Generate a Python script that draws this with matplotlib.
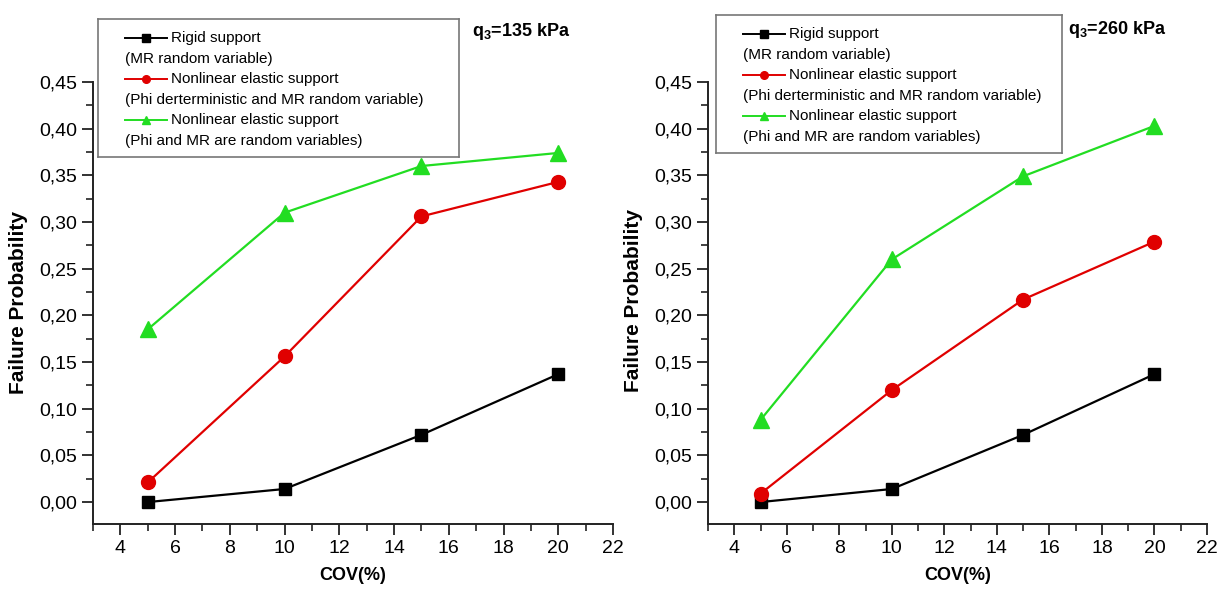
import matplotlib
matplotlib.use('Agg')
import matplotlib.pyplot as plt
from matplotlib.ticker import MultipleLocator, FuncFormatter

plt.rcParams['font.family'] = ['Liberation Sans', 'DejaVu Sans']
plt.rcParams['mathtext.fontset'] = 'custom'
plt.rcParams['mathtext.rm'] = 'Liberation Sans'
plt.rcParams['mathtext.bf'] = 'Liberation Sans:bold'

# data
cov = [5, 10, 15, 20]

rigid_135 = [0.000, 0.014, 0.072, 0.137]
nl_det_135 = [0.021, 0.156, 0.306, 0.343]
nl_rand_135 = [0.185, 0.310, 0.360, 0.374]

rigid_260 = [0.000, 0.014, 0.072, 0.137]
nl_det_260 = [0.009, 0.120, 0.217, 0.279]
nl_rand_260 = [0.088, 0.260, 0.349, 0.403]

series_names = ['Rigid support', 'Nonlinear elastic support', 'Nonlinear elastic support']
series_notes = ['(MR random variable)',
                '(Phi derterministic and MR random variable)',
                '(Phi and MR are random variables)']
titles = [r'q$_\mathbf{3}$=135 kPa', r'q$_\mathbf{3}$=260 kPa']

colors = ['black', '#e00000', '#22dd22']
markers = ['s', 'o', '^']
msizes = [9, 10, 11]

W, H = 1217, 594
fig = plt.figure(figsize=(W / 100, H / 100), dpi=100)


def px_axes(x0, y0, x1, y1, **kw):
    return fig.add_axes([x0 / W, 1 - y1 / H, (x1 - x0) / W, (y1 - y0) / H], **kw)


def panel(box, top, data, legbox, title_xy, title):
    ax = px_axes(box[0], top, box[1], 524)
    for vals, c, m, ms in zip(data, colors, markers, msizes):
        ax.plot(cov, vals, color=c, marker=m, markersize=ms, lw=1.6, zorder=3)
    ax.set_xlim(3, 22)
    ax.set_ylim(-0.0235, 0.45 + (82 - top) / 933)
    ax.xaxis.set_major_locator(MultipleLocator(2))
    ax.xaxis.set_minor_locator(MultipleLocator(1))
    ax.yaxis.set_major_locator(MultipleLocator(0.05))
    ax.yaxis.set_minor_locator(MultipleLocator(0.025))
    ax.yaxis.set_major_formatter(FuncFormatter(lambda v, p: f'{v:.2f}'.replace('.', ',')))
    for s in ['top', 'right']:
        ax.spines[s].set_visible(False)
    for s in ['left', 'bottom']:
        ax.spines[s].set_linewidth(1.4)
        ax.spines[s].set_color('#222222')
    ax.spines['left'].set_bounds(-0.0235, 0.45)
    ax.tick_params(which='major', direction='out', length=8, width=1.3, labelsize=14, color='#222222')
    ax.tick_params(which='minor', direction='out', length=5, width=1.2, color='#222222')
    ax.set_xlabel('COV(%)', fontsize=13, fontweight='bold', labelpad=7)
    ax.set_ylabel('Failure Probability', fontsize=15, fontweight='bold', labelpad=8)

    # legend box
    lx0, ly0, lx1, ly1 = legbox
    lg = px_axes(lx0, ly0, lx1, ly1, zorder=5)
    lg.set_xlim(0, lx1 - lx0)
    lg.set_ylim(ly1 - ly0, 0)
    lg.set_xticks([])
    lg.set_yticks([])
    for s in lg.spines.values():
        s.set_color('#777777')
        s.set_linewidth(1.2)
    rows = [19, 40, 60, 81, 101, 122]
    for i in range(3):
        yh = rows[2 * i]
        lg.plot([27, 69], [yh, yh], color=colors[i], lw=1.4)
        lg.plot([48], [yh], color=colors[i], marker=markers[i], markersize=5.5)
        lg.text(73, yh, series_names[i], fontsize=11, va='center', ha='left')
        lg.text(27, rows[2 * i + 1], series_notes[i], fontsize=11, va='center', ha='left')

    fig.text(title_xy[0] / W, 1 - title_xy[1] / H, title, fontsize=13,
             fontweight='bold', va='center', ha='left')
    return ax


panel((93, 613), 82, [rigid_135, nl_det_135, nl_rand_135],
      (98, 19, 459, 157), (472, 32), titles[0])
panel((708, 1207), 78, [rigid_260, nl_det_260, nl_rand_260],
      (716, 15, 1062, 153), (1068, 29), titles[1])

fig.savefig('out.png', dpi=100)
